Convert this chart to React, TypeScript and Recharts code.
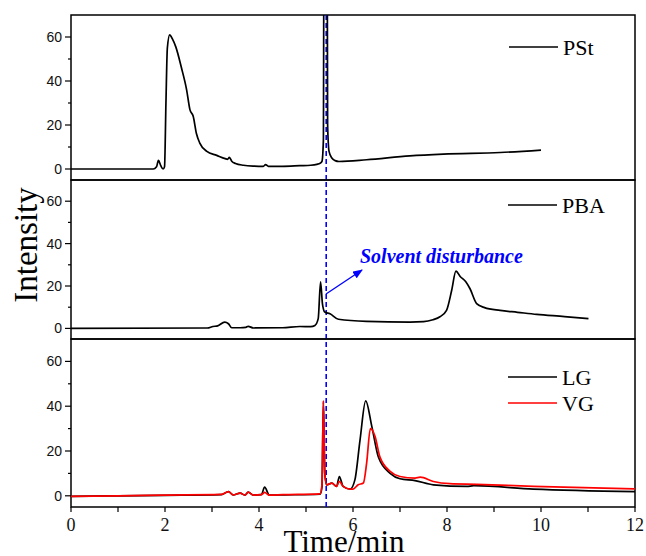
import React from 'react';
import { LineChart, Line, XAxis, YAxis, ReferenceLine, ReferenceArea } from 'recharts';

// PSt trace (time in min, intensity)
const pstTime = [0, 1.75, 1.82, 1.86, 1.91, 1.96, 1.99, 2.02, 2.05, 2.1, 2.16, 2.23, 2.35, 2.46, 2.53, 2.6, 2.67, 2.74, 2.89, 3.1, 3.28, 3.33, 3.37, 3.42, 3.5, 3.67, 3.9, 4.09, 4.14, 4.2, 4.5, 4.87, 5.1, 5.23, 5.3, 5.34, 5.37, 5.39, 5.44, 5.46, 5.49, 5.55, 5.62, 5.7, 6.29, 7.21, 7.92, 9.13, 10.0];
const pstValue = [0, 0, 1, 3.9, 1.5, 0, 1, 30, 55, 61, 59, 55.5, 46, 36, 27, 24, 16, 11.8, 8, 6.2, 4.7, 4.4, 5.3, 3.5, 2.5, 1.7, 1.3, 1.2, 2, 1.2, 1.2, 1.5, 1.7, 2.1, 2.6, 3.5, 13, 200, 200, 20, 8, 5, 3.8, 3.4, 4.2, 6, 6.8, 7.5, 8.6];

// PBA trace
const pbaTime = [0, 2.9, 3.02, 3.12, 3.27, 3.35, 3.42, 3.6, 3.72, 3.77, 3.88, 4.5, 4.87, 5.1, 5.19, 5.26, 5.31, 5.35, 5.4, 5.51, 5.69, 6.29, 7.21, 7.5, 7.7, 7.85, 7.99, 8.1, 8.19, 8.28, 8.4, 8.49, 8.63, 8.8, 9.13, 9.5, 9.91, 10.5, 11.01];
const pbaValue = [0, 0.2, 0.9, 1.2, 3.0, 2.2, 0.3, 0.3, 0.5, 1.0, 0.2, 0.3, 0.9, 0.8, 1.4, 4.6, 22, 11.6, 7.7, 6.9, 4.3, 3.3, 3.0, 3.2, 4.1, 5.5, 8.5, 18, 27, 24.5, 22, 18.7, 11.7, 9.8, 8.5, 7.6, 6.6, 5.6, 4.6];

// LG trace
const lgTime = [0, 1.0, 2.0, 3.2, 3.35, 3.45, 3.6, 3.7, 3.77, 3.88, 4.05, 4.12, 4.22, 4.5, 5.3, 5.34, 5.37, 5.4, 5.44, 5.55, 5.65, 5.71, 5.79, 5.94, 6.04, 6.15, 6.27, 6.4, 6.54, 6.79, 7.0, 7.32, 7.71, 8.42, 8.57, 9.84, 12.0];
const lgValue = [-0.3, 0, 0.2, 0.5, 1.9, 0.4, 1.2, 0.3, 1.6, 0.3, 0.5, 3.9, 0.3, 0.4, 0.7, 4, 42, 10, 4.9, 5.7, 4.2, 8.6, 4.2, 3.0, 7.1, 25, 42.4, 31, 17.3, 10, 7.6, 6.8, 4.9, 4.2, 4.5, 3.0, 1.9];

// VG trace
const vgTime = [0, 1.0, 2.0, 3.2, 3.35, 3.45, 3.6, 3.7, 3.77, 3.88, 4.05, 4.12, 4.22, 4.5, 5.3, 5.34, 5.37, 5.4, 5.44, 5.55, 5.65, 5.71, 5.79, 5.94, 6.0, 6.11, 6.22, 6.29, 6.37, 6.47, 6.57, 6.79, 7.0, 7.32, 7.43, 7.71, 8.06, 8.63, 9.84, 12.0];
const vgValue = [-0.3, 0, 0.3, 0.6, 1.9, 0.4, 1.2, 0.3, 1.6, 0.3, 0.5, 1.5, 0.3, 0.5, 0.9, 5, 42.5, 10, 4.9, 5.7, 4.2, 6.4, 4.2, 3.0, 3.0, 4.9, 5.7, 14.6, 30, 26.5, 17.5, 10.9, 8.6, 7.9, 8.3, 6.4, 5.4, 5.1, 4.2, 3.1];

const xTicks = [0, 1, 2, 3, 4, 5, 6, 7, 8, 9, 10, 11, 12];
const yTicks = [0, 10, 20, 30, 40, 50, 60];
const rightTicks = [0, 10, 20, 30, 40, 50, 60];
const xDomain = [0, 12];
const yDomain = [-5, 70];
const solventTime = 5.43;

const toRows = (t: number[], v: number[]) => t.map((x, i) => ({ t: x, v: v[i] }));

const SERIF = '"Liberation Serif", "Times New Roman", serif';
const SANS = '"Liberation Sans", Arial, sans-serif';

const LeftTick = (p: any) => {
  const major = p.payload.value % 20 === 0;
  return (
    <g>
      <line x1={p.x - (major ? 6 : 3)} x2={p.x} y1={p.y} y2={p.y} stroke="#000" strokeWidth={1.2} />
      {major && (
        <text x={p.x - 9} y={p.y} dy={5} textAnchor="end" fontSize={14} fontFamily={SANS} fill="#111">
          {p.payload.value}
        </text>
      )}
    </g>
  );
};

const RightTick = (p: any) => (
  <line x1={p.x - 4} x2={p.x} y1={p.y} y2={p.y} stroke="#000" strokeWidth={1.2} />
);

const TopTick = (p: any) => (
  <line x1={p.x} x2={p.x} y1={p.y} y2={p.y + 5} stroke="#000" strokeWidth={1.2} />
);

const BottomTick = (p: any) => (
  <g>
    <line x1={p.x} x2={p.x} y1={p.y} y2={p.y + 5} stroke="#000" strokeWidth={1.2} />
    {p.payload.value % 2 === 0 && (
      <text x={p.x} y={p.y + 24} textAnchor="middle" fontSize={18} fontFamily={SERIF} fill="#111">
        {p.payload.value}
      </text>
    )}
  </g>
);

type Series = { name: string; color: string; data: { t: number; v: number }[] };

function Panel({ top, height, series, bottomAxis }: { top: number; height: number; series: Series[]; bottomAxis: boolean }) {
  return (
    <div style={{ position: 'absolute', left: 0, top }}>
      <LineChart width={646} height={height} margin={{ top: 0, right: 0, bottom: 0, left: 0 }}>
        <XAxis
          dataKey="t"
          type="number"
          domain={xDomain}
          ticks={xTicks}
          allowDataOverflow
          height={bottomAxis ? 49 : 0}
          axisLine={false}
          tickLine={false}
          tickSize={0}
          tickMargin={0}
          tick={bottomAxis ? BottomTick : false}
          interval={0}
        />
        <XAxis
          xAxisId="top"
          orientation="top"
          dataKey="t"
          type="number"
          domain={xDomain}
          ticks={xTicks}
          height={0}
          axisLine={false}
          tickLine={false}
          tickSize={0}
          tickMargin={0}
          tick={TopTick}
          interval={0}
        />
        <YAxis
          type="number"
          domain={yDomain}
          allowDataOverflow
          ticks={yTicks}
          width={71}
          axisLine={false}
          tickLine={false}
          tickSize={0}
          tickMargin={0}
          tick={LeftTick}
          interval={0}
        />
        <YAxis
          yAxisId="right"
          orientation="right"
          type="number"
          domain={yDomain}
          ticks={rightTicks}
          width={11}
          axisLine={false}
          tickLine={false}
          tickSize={0}
          tickMargin={0}
          tick={RightTick}
          interval={0}
        />
        <ReferenceLine x={solventTime} stroke="#0000ff" strokeWidth={1.6} strokeDasharray="5 3" />
        {series.map((s) => (
          <Line
            key={s.name}
            data={s.data}
            dataKey="v"
            type="monotone"
            stroke={s.color}
            strokeWidth={1.7}
            dot={false}
            isAnimationActive={false}
          />
        ))}
        {/* plot frame */}
        <ReferenceArea
          x1={xDomain[0]}
          x2={xDomain[1]}
          y1={yDomain[0]}
          y2={yDomain[1]}
          fill="none"
          fillOpacity={0}
          stroke="#000"
          strokeWidth={1.5}
          ifOverflow="visible"
        />
      </LineChart>
    </div>
  );
}

const pst: Series = { name: 'PSt', color: '#000', data: toRows(pstTime, pstValue) };
const pba: Series = { name: 'PBA', color: '#000', data: toRows(pbaTime, pbaValue) };
const lg: Series = { name: 'LG', color: '#000', data: toRows(lgTime, lgValue) };
const vg: Series = { name: 'VG', color: '#ff0000', data: toRows(vgTime, vgValue) };

function LegendItem({ x, y, s }: { x: number; y: number; s: Series }) {
  return (
    <g>
      <line x1={x} x2={x + 49} y1={y} y2={y} stroke={s.color} strokeWidth={1.7} />
      <text x={x + 54} y={y + 8} fontSize={22} fontFamily={SERIF} fill="#000">
        {s.name}
      </text>
    </g>
  );
}

export default function App() {
  return (
    <div style={{ position: 'absolute', left: 0, top: 0, width: 646, height: 556, background: '#fff', overflow: 'hidden' }}>
      <style>{`.recharts-surface { overflow: visible; }`}</style>
      <Panel top={15} height={165} series={[pst]} bottomAxis={false} />
      <Panel top={180} height={159} series={[pba]} bottomAxis={false} />
      <Panel top={339} height={217} series={[lg, vg]} bottomAxis />
      <svg width={646} height={556} style={{ position: 'absolute', left: 0, top: 0, pointerEvents: 'none' }}>
        <defs>
          <marker id="arrowHead" markerWidth="10" markerHeight="8" refX="9" refY="4" orient="auto" markerUnits="userSpaceOnUse">
            <path d="M0,0 L10,4 L0,8 z" fill="#0000ff" />
          </marker>
        </defs>
        <LegendItem x={509} y={47} s={pst} />
        <LegendItem x={508} y={205} s={pba} />
        <LegendItem x={508} y={377} s={lg} />
        <LegendItem x={508} y={403} s={vg} />
        <line x1={326} y1={294} x2={362} y2={270} stroke="#0000ff" strokeWidth={1.4} markerEnd="url(#arrowHead)" />
        <text x={360} y={263} fontSize={20} fontWeight="bold" fontStyle="italic" fontFamily={SERIF} fill="#0000ff">
          Solvent disturbance
        </text>
        <text transform="translate(37,245) rotate(-90)" textAnchor="middle" fontSize={33} fontFamily={SERIF} fill="#000">
          Intensity
        </text>
        <text x={344} y={552} textAnchor="middle" fontSize={31} fontFamily={SERIF} fill="#000">
          Time/min
        </text>
      </svg>
    </div>
  );
}
